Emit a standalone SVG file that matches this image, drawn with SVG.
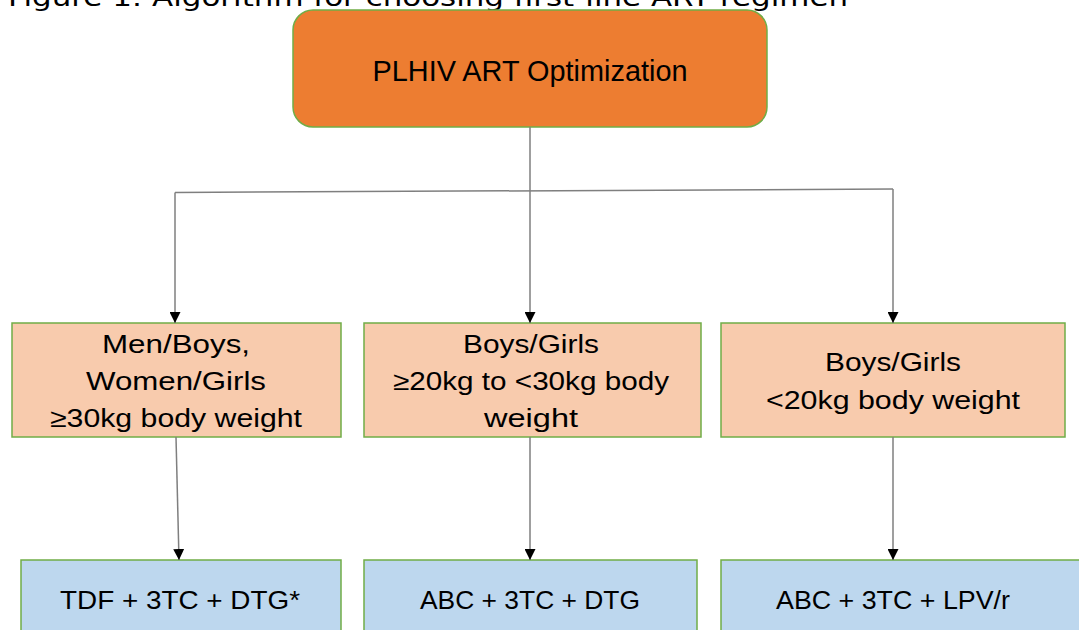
<svg xmlns="http://www.w3.org/2000/svg" width="1079" height="630" viewBox="0 0 1079 630">
<style>
.t{font-family:"Liberation Sans",Arial,sans-serif;fill:#000;text-anchor:middle}
.mid{fill:#F8CBAD;stroke:#70AD47;stroke-width:1.5}
.bot{fill:#BDD7EE;stroke:#70AD47;stroke-width:1.5}
.c{fill:none;stroke:#7F7F7F;stroke-width:1.5}
</style>
<defs>
<marker id="ah" markerWidth="11" markerHeight="11" refX="11" refY="5.5" orient="auto" markerUnits="userSpaceOnUse">
<path d="M0,0 L11,5.5 L0,11 z" fill="#000"/>
</marker>
</defs>
<rect width="1079" height="630" fill="#fff"/>
<text x="8" y="6" font-family="DejaVu Sans, Verdana, sans-serif" font-size="24" textLength="840" lengthAdjust="spacingAndGlyphs">Figure 1: Algorithm for choosing first-line ART regimen</text>
<g id="n0">
<rect x="293" y="10" width="474" height="117" rx="20" ry="20" fill="#ED7D31" stroke="#70AD47" stroke-width="1.5"/>
<text class="t" x="530" y="81" font-size="29" textLength="315" lengthAdjust="spacingAndGlyphs">PLHIV ART Optimization</text>
</g>
<g id="n1">
<rect class="mid" x="12" y="323" width="329" height="114"/>
<text class="t" x="176" y="353" font-size="26" textLength="148" lengthAdjust="spacingAndGlyphs">Men/Boys,</text>
<text class="t" x="176" y="390" font-size="26" textLength="180" lengthAdjust="spacingAndGlyphs">Women/Girls</text>
<text class="t" x="176" y="427" font-size="26" textLength="252" lengthAdjust="spacingAndGlyphs">≥30kg body weight</text>
</g>
<g id="n2">
<rect class="mid" x="364" y="323" width="337" height="114"/>
<text class="t" x="531" y="353" font-size="26" textLength="136" lengthAdjust="spacingAndGlyphs">Boys/Girls</text>
<text class="t" x="531" y="390" font-size="26" textLength="276" lengthAdjust="spacingAndGlyphs">≥20kg to &lt;30kg body</text>
<text class="t" x="531" y="427" font-size="26" textLength="94" lengthAdjust="spacingAndGlyphs">weight</text>
</g>
<g id="n3">
<rect class="mid" x="721" y="323" width="344" height="114"/>
<text class="t" x="893" y="371" font-size="26" textLength="136" lengthAdjust="spacingAndGlyphs">Boys/Girls</text>
<text class="t" x="893" y="409" font-size="26" textLength="254" lengthAdjust="spacingAndGlyphs">&lt;20kg body weight</text>
</g>
<g id="n4">
<rect class="bot" x="21" y="560" width="320" height="80"/>
<text class="t" x="180" y="609" font-size="26" textLength="240" lengthAdjust="spacingAndGlyphs">TDF + 3TC + DTG*</text>
</g>
<g id="n5">
<rect class="bot" x="364" y="560" width="333" height="80"/>
<text class="t" x="530" y="609" font-size="26" textLength="220" lengthAdjust="spacingAndGlyphs">ABC + 3TC + DTG</text>
</g>
<g id="n6">
<rect class="bot" x="721" y="560" width="370" height="80"/>
<text class="t" x="893" y="609" font-size="26" textLength="234" lengthAdjust="spacingAndGlyphs">ABC + 3TC + LPV/r</text>
</g>
<g id="connectors">
<path class="c" d="M530,127 L530,191"/>
<path class="c" d="M175,192.5 L893,189"/>
<path class="c" d="M175,192.5 L175,323" marker-end="url(#ah)"/>
<path class="c" d="M530,191 L530,323" marker-end="url(#ah)"/>
<path class="c" d="M893,189 L893,323" marker-end="url(#ah)"/>
<path class="c" d="M176,437 L179,560" marker-end="url(#ah)"/>
<path class="c" d="M530,437 L530,560" marker-end="url(#ah)"/>
<path class="c" d="M893,437 L893,560" marker-end="url(#ah)"/>
</g>
</svg>
